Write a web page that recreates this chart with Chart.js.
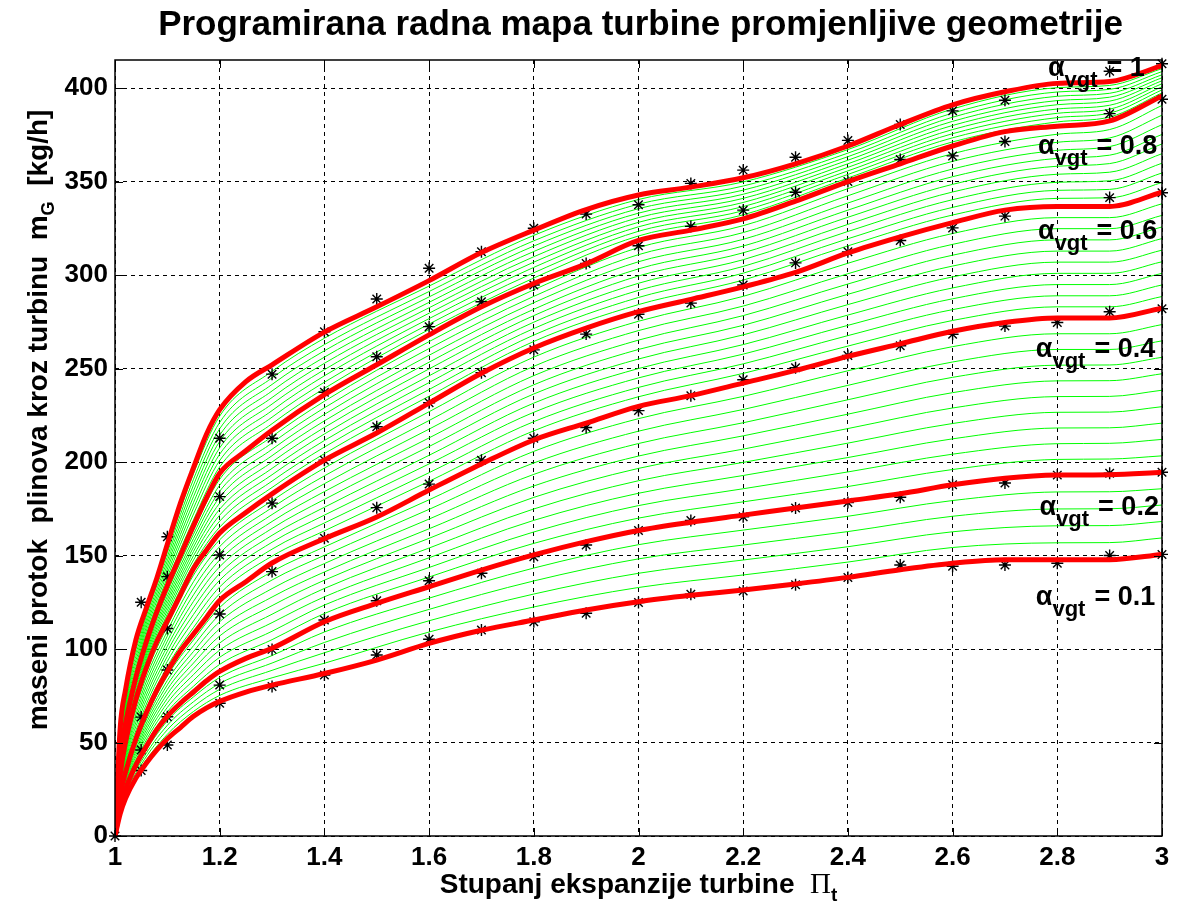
<!DOCTYPE html>
<html>
<head>
<meta charset="utf-8" />
<script src="https://cdn.jsdelivr.net/npm/chart.js"></script>
<style>
  body{margin:0;background:#fff;}
  #wrap{width:1177px;height:905px;position:relative;}
</style>
</head>
<body>
<div id="wrap"><canvas id="map"></canvas></div>
<script>
// pressure ratio axis (Pi_t) used by the red alpha curves
const redX = [1, 1.01, 1.02, 1.04, 1.06, 1.08, 1.1, 1.125, 1.15, 1.175, 1.2, 1.25, 1.3, 1.4, 1.5, 1.6, 1.7, 1.8, 1.9, 2.0, 2.1, 2.2, 2.3, 2.4, 2.5, 2.6, 2.7, 2.8, 2.9, 3.0];

// mass flow [kg/h]
const flowA01 = [0, 12, 20, 31, 39, 46, 52, 58, 64, 68.5, 72, 77, 80.7, 86.9, 94.1, 103, 110, 115.5, 120.9, 125.3, 128.7, 131.6, 134.8, 138.3, 142.4, 145.9, 147.8, 147.8, 147.8, 150.6];
const flowA02 = [0, 16, 25, 38, 48, 57, 64, 71, 77, 83, 88, 95, 100.4, 114.6, 124.4, 133.3, 142.2, 150.3, 157.4, 163.4, 167.8, 171.6, 175.4, 179.2, 183, 187.8, 191.3, 193, 193.2, 194.5];
const flowA04 = [0, 22, 34, 52, 66, 78, 88, 99, 108, 117, 126, 136, 146, 159, 170.6, 185, 199, 211.8, 220.8, 229.8, 235.5, 242.2, 249, 256.5, 263.2, 269.9, 274.6, 277, 277, 282.3];
const flowA06 = [0, 33, 50, 73, 90, 104, 115, 129, 143, 153, 162, 173, 183, 201, 215.5, 231.5, 247.5, 261, 271.6, 280.4, 287, 293.7, 301.4, 311.8, 320.4, 328, 334.7, 336.7, 336.7, 344.3];
const flowA08 = [0, 42, 60, 85, 104, 120, 134, 150, 166, 181, 194, 206, 217, 236, 252, 268, 283, 295.5, 306, 318.5, 324, 330, 339.5, 350, 359.5, 369, 376.7, 379.6, 382.4, 395.8];
const flowA10 = [0, 58, 78, 105, 122, 138, 156, 178, 197, 215, 228, 243, 252, 269.5, 283, 297, 312, 324, 335, 342.8, 347, 352, 359.5, 369, 380.5, 391, 398, 402.5, 403.5, 412];

const curveLabels = ['1', '0.8', '0.6', '0.4', '0.2', '0.1'];

// thin green curves: one row per pressure ratio, 40 values (alpha 0.12 ... 0.98, reds excluded)
const greenX = [1, 1.02, 1.05, 1.1, 1.15, 1.2, 1.3, 1.4, 1.6, 1.8, 2.0, 2.2, 2.4, 2.6, 2.8, 2.9, 3.0];
const greenRows = [
  [0,0,0,0, 0,0,0,0,0,0,0,0,0, 0,0,0,0,0,0,0,0,0, 0,0,0,0,0,0,0,0,0, 0,0,0,0,0,0,0,0,0],
  [21,22,23,24, 25.9,26.8,27.7,28.6,29.5,30.4,31.3,32.2,33.1, 35.6,37.2,38.8,40.4,42,43.6,45.2,46.8,48.4, 51,52,53,54,55,56,57,58,59, 61.8,63.6,65.4,67.2,69,70.8,72.6,74.4,76.2],
  [36.6,38.2,39.8,41.4, 44.6,46.2,47.8,49.4,51,52.6,54.2,55.8,57.4, 61.3,63.6,65.9,68.2,70.5,72.8,75.1,77.4,79.7, 83.3,84.6,85.9,87.2,88.5,89.8,91.1,92.4,93.7, 96.9,98.8,100.7,102.6,104.5,106.4,108.3,110.2,112.1],
  [54.4,56.8,59.2,61.6, 66.4,68.8,71.2,73.6,76,78.4,80.8,83.2,85.6, 90.7,93.4,96.1,98.8,101.5,104.2,106.9,109.6,112.3, 116.9,118.8,120.7,122.6,124.5,126.4,128.3,130.2,132.1, 136.2,138.4,140.6,142.8,145,147.2,149.4,151.6,153.8],
  [66.6,69.2,71.8,74.4, 80.1,83.2,86.3,89.4,92.5,95.6,98.7,101.8,104.9, 111.5,115,118.5,122,125.5,129,132.5,136,139.5, 145.3,147.6,149.9,152.2,154.5,156.8,159.1,161.4,163.7, 169.1,172.2,175.3,178.4,181.5,184.6,187.7,190.8,193.9],
  [75.2,78.4,81.6,84.8, 91.8,95.6,99.4,103.2,107,110.8,114.6,118.4,122.2, 129.6,133.2,136.8,140.4,144,147.6,151.2,154.8,158.4, 165.2,168.4,171.6,174.8,178,181.2,184.4,187.6,190.8, 197.4,200.8,204.2,207.6,211,214.4,217.8,221.2,224.6],
  [84.6,88.6,92.5,96.5, 105,109.5,114.1,118.6,123.2,127.8,132.3,136.9,141.4, 149.7,153.4,157.1,160.8,164.5,168.2,171.9,175.6,179.3, 186.4,189.8,193.2,196.6,200,203.4,206.8,210.2,213.6, 220.5,224,227.5,231,234.5,238,241.5,245,248.5],
  [92.4,98,103.5,109.1, 119,123.5,127.9,132.4,136.8,141.2,145.7,150.1,154.6, 163.2,167.4,171.6,175.8,180,184.2,188.4,192.6,196.8, 204.5,208,211.5,215,218.5,222,225.5,229,232.5, 239.4,242.7,246.1,249.4,252.8,256.1,259.5,262.8,266.2],
  [109.1,115.1,121.2,127.2, 138.5,143.6,148.8,154,159.2,164.3,169.5,174.7,179.8, 189.7,194.3,199,203.6,208.3,212.9,217.6,222.2,226.9, 235.2,238.8,242.5,246.1,249.8,253.4,257.1,260.7,264.4, 270.9,273.8,276.7,279.6,282.5,285.4,288.3,291.2,294.1],
  [122.5,129.4,136.4,143.3, 156.5,162.6,168.8,174.9,181.1,187.2,193.4,199.5,205.7, 216.7,221.6,226.6,231.5,236.4,241.3,246.2,251.2,256.1, 264.5,267.9,271.4,274.8,278.3,281.7,285.2,288.6,292.1, 298.4,301.2,304.1,306.9,309.8,312.6,315.5,318.3,321.2],
  [132.9,140.5,148.2,155.8, 170,176.7,183.3,190,196.6,203.2,209.9,216.5,223.2, 234.9,239.9,245,250,255.1,260.2,265.2,270.3,275.3, 284.2,288,291.8,295.6,299.5,303.3,307.1,310.9,314.7, 320.9,323.4,325.8,328.2,330.7,333.1,335.5,337.9,340.4],
  [139.6,147.6,155.6,163.6, 178.7,185.7,192.8,199.8,206.9,214,221,228.1,235.1, 247.4,252.5,257.7,262.8,268,273.1,278.3,283.4,288.6, 297.3,301,304.6,308.2,311.9,315.5,319.1,322.7,326.4, 332.2,334.4,336.6,338.8,341,343.2,345.4,347.6,349.8],
  [146.5,154.7,162.8,171, 186.9,194.7,202.4,210.1,217.9,225.6,233.3,241,248.8, 262,267.6,273.1,278.6,284.2,289.7,295.2,300.7,306.3, 315.6,319.4,323.3,327.1,330.9,334.7,338.5,342.4,346.2, 351.9,353.8,355.7,357.6,359.5,361.4,363.3,365.2,367.1],
  [154.3,162.7,171,179.4, 196,204.2,212.4,220.6,228.9,237.1,245.3,253.5,261.7, 275.7,281.5,287.3,293.1,299,304.8,310.6,316.4,322.2, 332.1,336.2,340.3,344.4,348.5,352.6,356.7,360.8,364.9, 371.2,373.4,375.6,377.8,380,382.2,384.4,386.6,388.8],
  [156.8,165.9,174.9,184, 201.4,209.8,218.2,226.6,235,243.4,251.8,260.2,268.6, 283,288.9,294.9,300.9,306.9,312.8,318.8,324.8,330.7, 341,345.3,349.6,353.9,358.2,362.4,366.7,371,375.3, 381.9,384.2,386.5,388.8,391.1,393.3,395.6,397.9,400.2],
  [156.9,166,175,184.1, 201.6,210,218.3,226.7,235.1,243.5,251.9,260.2,268.6, 283,288.9,294.9,300.9,306.9,312.8,318.8,324.8,330.7, 341.3,345.8,350.4,355,359.6,364.1,368.7,373.3,377.8, 384.5,386.6,388.7,390.8,393,395.1,397.2,399.3,401.4],
  [159.4,168.2,177,185.7, 203.3,212.1,220.8,229.6,238.4,247.2,256,264.8,273.5, 288.5,294.7,300.9,307.1,313.3,319.5,325.7,331.9,338.1, 349.5,354.6,359.8,364.9,370.1,375.2,380.4,385.5,390.7, 397.4,399,400.7,402.3,403.9,405.5,407.1,408.8,410.4]
];

// measured points (asterisks), grouped by pressure ratio
const starPi = [1, 1.05, 1.1, 1.2, 1.3, 1.4, 1.5, 1.6, 1.7, 1.8, 1.9, 2.0, 2.1, 2.2, 2.3, 2.4, 2.5, 2.6, 2.7, 2.8, 2.9, 3.0];
const starFlow = [
  [0],
  [125, 63.6, 46, 35],
  [160, 138.7, 111, 88.8, 63.8, 48.7],
  [212.7, 181.5, 150.3, 118.7, 80.7, 71],
  [247, 212.7, 178, 141.4, 99.8, 79.9],
  [269.7, 237.3, 201, 159.2, 115.5, 86.1],
  [287.2, 256.3, 218.9, 175.6, 125.8, 96.8],
  [303.6, 272.4, 231.7, 188.2, 136.5, 105.2],
  [312.5, 285.7, 247.8, 201, 140.5, 110.2],
  [325, 294.7, 260, 212.7, 149.4, 114.6],
  [332.6, 306.2, 268.4, 218.5, 155.6, 119.1],
  [337.6, 315.7, 279, 227.5, 163.4, 124.9],
  [349, 326, 285, 235.5, 168.7, 129.3],
  [356.1, 334.7, 294.7, 244, 170.7, 131],
  [363, 344.3, 306.5, 250.4, 175.4, 134.4],
  [372, 350, 312.4, 257, 178.3, 138.2],
  [380.5, 361.8, 318.5, 262.2, 181.2, 144.9],
  [387.8, 363.7, 325.2, 268.3, 187.8, 144.3],
  [393.5, 371.4, 331.5, 272.7, 188.8, 144.9],
  [274.6, 193, 145.9],
  [409, 386.3, 341.4, 280.4, 194, 150],
  [413, 394, 344, 282, 194.5, 150.6]
];

const xTicks = [1, 1.2, 1.4, 1.6, 1.8, 2, 2.2, 2.4, 2.6, 2.8, 3];
const yTicks = [0, 50, 100, 150, 200, 250, 300, 350, 400];

const FONT = "'Liberation Sans', Arial, Helvetica, sans-serif";
// where the alpha labels sit (data coords: Pi_t, flow at text baseline)
const labelAnchors = [[2.782, 406.4], [2.763, 364.7], [2.763, 319.3], [2.759, 256.1], [2.766, 171.7], [2.759, 123.3]];

const pts = (xs, ys) => xs.map((x, i) => ({x: x, y: ys[i]}));

const datasets = [];
// greens first (drawn underneath)
for (let j = 0; j < greenRows[0].length; j++) {
  datasets.push({
    data: greenX.map((x, i) => ({x: x, y: greenRows[i][j]})),
    showLine: true, borderColor: '#00ff00', borderWidth: 1, pointRadius: 0,
    cubicInterpolationMode: 'monotone', order: 3
  });
}
[flowA10, flowA08, flowA06, flowA04, flowA02, flowA01].forEach(f => {
  datasets.push({
    data: pts(redX, f), showLine: true, borderColor: '#ff0000', borderWidth: 5,
    pointRadius: 0, cubicInterpolationMode: 'monotone', order: 1
  });
});
const starPts = [];
starPi.forEach((p, i) => starFlow[i].forEach(v => starPts.push({x: p, y: v})));
datasets.push({
  data: starPts, showLine: false, pointStyle: 'star', pointRadius: 6,
  borderColor: '#000', backgroundColor: '#000', borderWidth: 1.4, order: 2, clip: false
});

const decor = {
  id: 'decor',
  afterDatasetsDraw(chart) {
    const {ctx, chartArea: a, scales: {x, y}} = chart;
    ctx.save();
    ctx.strokeStyle = '#000';
    ctx.lineWidth = 1;
    ctx.beginPath();
    xTicks.forEach(v => {
      const px = Math.round(x.getPixelForValue(v)) + 0.5;
      ctx.moveTo(px, a.bottom); ctx.lineTo(px, a.bottom - 8);
      ctx.moveTo(px, a.top); ctx.lineTo(px, a.top + 8);
    });
    yTicks.forEach(v => {
      const py = Math.round(y.getPixelForValue(v)) + 0.5;
      ctx.moveTo(a.left, py); ctx.lineTo(a.left + 8, py);
      ctx.moveTo(a.right, py); ctx.lineTo(a.right - 8, py);
    });
    ctx.stroke();
    ctx.lineWidth = 1.5;
    ctx.strokeRect(a.left, a.top, a.right - a.left, a.bottom - a.top);

    // alpha labels
    ctx.fillStyle = '#000';
    ctx.textBaseline = 'alphabetic';
    ctx.textAlign = 'left';
    curveLabels.forEach((t, i) => {
      let px = x.getPixelForValue(labelAnchors[i][0]);
      const py = y.getPixelForValue(labelAnchors[i][1]);
      ctx.font = 'bold 27px ' + FONT;
      ctx.fillText('\u03b1', px, py);
      px += ctx.measureText('\u03b1').width;
      ctx.font = 'bold 22px ' + FONT;
      ctx.fillText('vgt', px, py + 11);
      px += ctx.measureText('vgt').width + 9;
      ctx.font = 'bold 27px ' + FONT;
      ctx.fillText('= ' + t, px, py);
    });
    ctx.restore();
  },
  afterDraw(chart) {
    const {ctx, chartArea: a} = chart;
    ctx.save();
    ctx.fillStyle = '#000';
    ctx.textBaseline = 'alphabetic';
    // title
    ctx.textAlign = 'center';
    ctx.font = 'bold 35px ' + FONT;
    ctx.fillText('Programirana radna mapa turbine promjenljive geometrije', (a.left + a.right) / 2 + 2, 35);

    // x axis title with Pi_t
    ctx.textAlign = 'left';
    const xa = [
      {t: 'Stupanj ekspanzije turbine  ', f: 'bold 28px ' + FONT, dy: 0},
      {t: '\u03a0', f: '29px "Liberation Serif", "DejaVu Serif", serif', dy: 0},
      {t: 't', f: 'bold 19px ' + FONT, dy: 8}
    ];
    let w = 0;
    xa.forEach(p => { ctx.font = p.f; w += ctx.measureText(p.t).width; });
    let cx = (a.left + a.right) / 2 - w / 2;
    xa.forEach(p => { ctx.font = p.f; ctx.fillText(p.t, cx, 893 + p.dy); cx += ctx.measureText(p.t).width; });

    // y axis title (rotated)
    const ya = [
      {t: 'maseni protok  plinova kroz turbinu  m', f: 'bold 28px ' + FONT, dy: 0},
      {t: 'G', f: 'bold 18px ' + FONT, dy: 7},
      {t: '  [kg/h]', f: 'bold 28px ' + FONT, dy: 0}
    ];
    ctx.translate(47, 420);
    ctx.rotate(-Math.PI / 2);
    w = 0;
    ya.forEach(p => { ctx.font = p.f; w += ctx.measureText(p.t).width; });
    cx = -w / 2;
    ya.forEach(p => { ctx.font = p.f; ctx.fillText(p.t, cx, p.dy); cx += ctx.measureText(p.t).width; });
    ctx.restore();
  }
};

new Chart(document.getElementById('map'), {
  type: 'scatter',
  data: {datasets: datasets},
  options: {
    responsive: true, maintainAspectRatio: false, animation: false,
    layout: {padding: {top: 60, right: 15, left: 0, bottom: 0}},
    plugins: {legend: {display: false}, tooltip: {enabled: false}},
    scales: {
      x: {
        type: 'linear', min: 1, max: 3,
        afterBuildTicks: s => { s.ticks = xTicks.map(v => ({value: v})); },
        afterFit: s => { s.height = 69; },
        ticks: {color: '#000', padding: 6, maxRotation: 0, autoSkip: false,
                font: {family: FONT, size: 26, weight: 'bold'}, callback: v => String(v)},
        grid: {color: '#000', lineWidth: 1, drawTicks: false},
        border: {display: false, dash: [4, 4]}
      },
      y: {
        type: 'linear', min: 0, max: 415,
        afterBuildTicks: s => { s.ticks = yTicks.map(v => ({value: v})); },
        afterFit: s => { s.width = 115; },
        ticks: {color: '#000', padding: 7, font: {family: FONT, size: 26, weight: 'bold'}},
        grid: {color: '#000', lineWidth: 1, drawTicks: false},
        border: {display: false, dash: [4, 4]}
      }
    }
  },
  plugins: [decor]
});
</script>
</body>
</html>
